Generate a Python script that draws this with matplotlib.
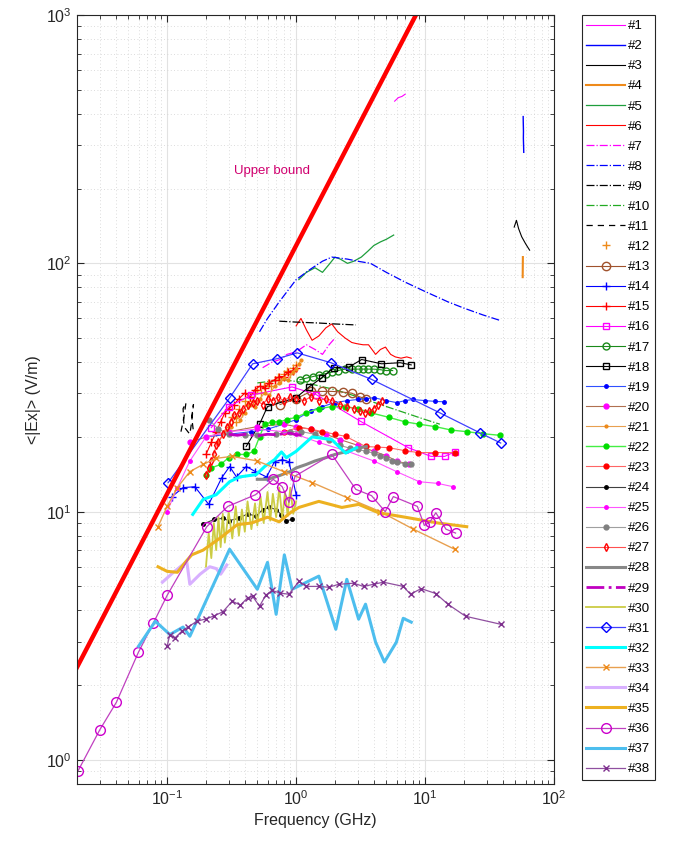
import matplotlib
matplotlib.use('Agg')
import matplotlib.pyplot as plt

plt.rcParams['font.family'] = ['Liberation Sans', 'DejaVu Sans']
plt.rcParams['mathtext.default'] = 'regular'

# ---- data: frequency (GHz) and <|Ex|> (V/m) ----
f1 = [5.8, 6.2, 6.6, 7.0]
e1 = [450, 465, 470, 480]

f2 = [57.5, 57.6, 57.8, 57.7, 57.9, 58.0, 58.1]
e2 = [390, 370, 340, 320, 300, 290, 280]

f3 = [49, 51, 53, 56, 60, 64.5]
e3 = [140, 149, 138, 128, 120, 113]

f4 = [57.0, 57.1, 57.2]
e4 = [88, 97, 106]

f5 = [1.05, 1.2, 1.4, 1.6, 1.8, 2.0, 2.2, 2.5, 2.8, 3.2, 3.6, 4.0, 4.5, 5.0, 5.7]
e5 = [86, 92, 96, 92, 99, 106, 104, 100, 102, 106, 112, 118, 122, 125, 130]

f6 = [1.0, 1.09, 1.2, 1.33, 1.5, 1.7, 1.89, 2.1, 2.4, 2.7, 2.94, 3.3, 3.64, 4.13,
      4.5, 4.92, 5.4, 5.87, 6.5, 7.2, 7.8]
e6 = [56, 60, 54, 49, 51, 55, 57, 53, 50, 48, 47.5, 47, 47, 43, 45, 46, 43, 42,
      41.5, 42, 41.5]

f7 = [0.55, 0.65, 0.75, 0.85, 1.0, 1.2, 1.4, 1.6, 1.8, 2.0]
e7 = [38, 40, 41, 43, 44, 47, 45, 43, 47, 50]

f8 = [0.52, 0.6, 0.74, 1.0, 1.3, 1.6, 1.89, 2.5, 3.0, 3.77, 5, 7, 10, 15, 20, 28, 37.7]
e8 = [53, 60, 70, 86, 95, 102, 106, 104, 102, 100, 92, 84, 77, 70, 66, 62, 59]

f9 = [0.74, 1.0, 1.5, 2.0, 2.9]
e9 = [58.5, 58, 57.5, 57, 56.5]

f10 = [0.5, 0.8, 1.2, 2, 3, 4.5, 7, 10, 13]
e10 = [33, 34, 33, 31, 29, 27, 25, 23.5, 22.5]

f11 = [0.128, 0.135, 0.14, 0.133, 0.135, 0.15, 0.155, 0.16, 0.155, 0.16]
e11 = [21, 24, 27.5, 26, 22, 20.5, 23, 27, 24, 21]

f12 = [0.3, 0.32, 0.34, 0.36, 0.38, 0.4, 0.42, 0.44, 0.46, 0.48, 0.5, 0.53, 0.56,
       0.6, 0.64, 0.68, 0.72, 0.76, 0.8, 0.85, 0.9, 0.95, 1.0]
e12 = [22, 24, 23, 26, 25, 28, 27, 29, 28, 30, 31, 30, 32, 33, 32, 34, 35, 34, 36,
       37, 36, 38, 39]

f13 = [0.75, 1.0, 1.3, 1.6, 1.9, 2.3, 2.7, 3.1, 3.5]
e13 = [27, 28.5, 30.5, 30.5, 30.5, 30.3, 30, 29, 28.5]

f14 = [0.109, 0.133, 0.164, 0.21, 0.265, 0.305, 0.345, 0.41, 0.484, 0.59, 0.68,
       0.78, 0.88, 1.0]
e14 = [11.5, 12.5, 12.6, 10.7, 13.7, 15.2, 13.8, 15.2, 14.5, 13.8, 15.9, 16.2,
       15.9, 11.7]

f15 = [0.2, 0.22, 0.24, 0.26, 0.28, 0.3, 0.33, 0.36, 0.4, 0.44, 0.48, 0.52, 0.57,
       0.62, 0.68, 0.74, 0.8, 0.87, 0.94, 1.0]
e15 = [17, 19, 21, 23, 25, 26, 27, 28.5, 30, 29, 31, 32, 31.5, 33, 34, 35, 35,
       36.5, 37, 38]

f16 = [0.22, 0.3, 0.45, 0.93, 1.43, 3.16, 7.4, 11.1, 14.2, 16.9]
e16 = [21.8, 26.5, 29.5, 31.8, 29.6, 23.1, 18.1, 16.7, 16.7, 17.4]

f17 = [1.07, 1.2, 1.35, 1.5, 1.7, 1.9, 2.1, 2.4, 2.7, 3.0, 3.3, 3.6, 4.0, 4.5,
       5.0, 5.6]
e17 = [34, 34.5, 35, 35.5, 36, 36.5, 37, 37.5, 37.5, 37.5, 37.5, 37.5, 37.5,
       37.3, 37, 37]

f18 = [0.41, 0.52, 0.60, 1.0, 1.26, 1.58, 1.96, 2.56, 3.22, 4.58, 6.4, 7.8]
e18 = [18.3, 22.5, 26.5, 28.8, 31.8, 34.6, 38, 38.2, 41, 39.4, 39.8, 39]

f19 = [0.2, 0.3, 0.45, 0.6, 0.8, 1.0, 1.3, 1.6, 2.0, 2.5, 3.0, 3.5, 4.0, 5.0,
       6.0, 7.0, 8.0, 10, 12, 14]
e19 = [20, 20.5, 21, 21.5, 22.5, 23.5, 25.5, 26.5, 27.5, 28, 28.3, 28.5, 28.8,
       28, 27.5, 28, 28.3, 28, 27.8, 27.7]

f20 = [0.15, 0.2, 0.3, 0.5, 0.8, 1.0, 1.3, 1.7, 2.2, 3, 4, 5, 6, 7.5]
e20 = [19, 20, 21, 22, 22.5, 22, 21.5, 20.5, 19.5, 18.5, 17.5, 16.8, 16, 15.5]

f21 = [0.25, 0.28, 0.31, 0.34, 0.37, 0.4, 0.44, 0.48, 0.52, 0.57, 0.62, 0.68,
       0.74, 0.8, 0.87, 0.94, 1.0, 1.05, 1.1]
e21 = [19, 21, 22, 24, 23.5, 25, 27, 26.5, 28.5, 30, 29.5, 32, 33, 34.5, 34,
       36.5, 37.5, 39.5, 41]

f22 = [0.2, 0.22, 0.26, 0.3, 0.35, 0.41, 0.47, 0.52, 0.57, 0.65, 0.74, 0.85, 1.0,
       1.2, 1.5, 1.9, 2.4, 3.0, 3.8, 5.2, 7, 9, 12, 16, 21, 28, 38]
e22 = [14, 15, 15.5, 16.5, 17, 17, 17.5, 20, 22.5, 23, 23, 23.5, 24, 25, 26,
       26.5, 26.5, 26, 25, 24, 23, 22.5, 22, 21.3, 21, 20.6, 20.3]

f23 = [0.8, 1.05, 1.3, 1.6, 2.0, 2.42, 3.45, 4.2, 5.2, 7.0, 8.8, 12, 16.9]
e23 = [21, 21.8, 21.5, 21, 20.5, 20.1, 18.3, 18.2, 18.1, 17.6, 17.3, 17.3, 17.3]

f24 = [0.19, 0.23, 0.27, 0.3, 0.36, 0.42, 0.49, 0.55, 0.62, 0.7, 0.77, 0.84, 0.93]
e24 = [8.9, 9.3, 9.4, 9.2, 9.4, 9.8, 9.6, 10.2, 10.4, 10.2, 9.7, 9.2, 9.3]

f25 = [0.1, 0.12, 0.15, 0.2, 0.3, 0.5, 0.8, 1.0, 1.5, 2.5, 4.0, 6.0, 9.0, 12.5, 16.5]
e25 = [10, 12.5, 16, 20, 21, 21.5, 21, 20.5, 19, 17.5, 16, 14.5, 13.2, 13, 12.6]

f26 = [0.21, 0.25, 0.3, 0.4, 0.5, 0.7, 0.9, 1.1, 1.4, 1.8, 2.2, 2.6, 3.0, 3.5,
       4.0, 4.5, 5.0, 5.5, 6.0, 7.0, 7.8]
e26 = [23.5, 21.5, 20.5, 20.3, 20.3, 20.5, 21, 21, 20.5, 19.5, 18.5, 18, 17.8,
       17.5, 17.2, 16.8, 16.5, 16, 15.8, 15.6, 15.5]

f27 = [0.2, 0.21, 0.22, 0.23, 0.24, 0.25, 0.27, 0.29, 0.31, 0.33, 0.36, 0.39,
       0.42, 0.46, 0.5, 0.55, 0.6, 0.66, 0.72, 0.8, 0.9, 1.0, 1.15, 1.3, 1.5, 1.7,
       1.9, 2.2, 2.5, 2.8, 3.1, 3.4, 3.7, 4.0, 4.3, 4.6]
e27 = [14, 15, 16, 17, 18.5, 19, 20.5, 22, 23, 24.5, 25, 26, 27, 27.5, 28, 27,
       28.5, 28, 29, 28, 29, 28.5, 28, 29, 28, 28.5, 28, 27, 26.5, 26, 25.5, 25,
       25.5, 26, 27, 28]

f28 = [0.5, 0.6, 0.75, 0.9, 1.0, 1.2, 1.4, 1.7, 2.0, 2.5, 3.0, 3.5]
e28 = [13.5, 13.5, 14, 14.5, 15, 15.5, 16, 16.5, 17, 17.5, 18, 18.3]

f29 = [0.3, 0.35, 0.4, 0.45, 0.5, 0.6, 0.7, 0.8, 0.9, 1.0, 1.1]
e29 = [20.5, 20.3, 20.5, 20.3, 20.2, 20.5, 20.4, 20.6, 20.7, 20.4, 20.3]

f30 = [0.2, 0.21, 0.22, 0.23, 0.24, 0.25, 0.26, 0.27, 0.28, 0.3, 0.32, 0.34,
       0.36, 0.38, 0.4, 0.42, 0.45, 0.48, 0.5, 0.53, 0.56, 0.6, 0.63, 0.66, 0.7,
       0.74, 0.78, 0.82, 0.86, 0.9, 0.95, 1.0]
e30 = [6.0, 8.2, 6.5, 9.0, 7.0, 9.5, 7.2, 9.8, 7.5, 10.0, 7.8, 10.5, 8.0, 10.2,
       8.3, 11.0, 8.5, 10.8, 8.8, 11.5, 9.0, 12.0, 9.2, 11.8, 9.5, 12.5, 9.4, 12.0,
       9.6, 12.5, 9.8, 11.0]

f31 = [0.102, 0.305, 0.46, 0.71, 1.02, 1.86, 3.84, 13.0, 26.4, 38.5]
e31 = [13.1, 28.7, 39.4, 41.3, 43.6, 39.8, 34.1, 25.0, 20.8, 18.9]

f32 = [0.158, 0.19, 0.24, 0.305, 0.364, 0.49, 0.57, 0.68, 0.77, 0.84, 1.0,
       1.33, 1.89, 2.42, 2.94]
e32 = [9.75, 11.2, 11.7, 13.2, 13.8, 14.1, 15.2, 16.2, 17.4, 16.5, 17.5, 20,
       19.5, 17.2, 18.1]

f33 = [0.085, 0.1, 0.12, 0.15, 0.19, 0.24, 0.32, 0.5, 0.8, 1.33, 2.47, 4.5, 8.1, 16.9]
e33 = [8.7, 10.5, 12.5, 14.5, 15.5, 16.4, 16.7, 16, 14.5, 13.1, 11.4, 10, 8.5, 7.06]

f34 = [0.092, 0.112, 0.142, 0.150, 0.18, 0.214, 0.24, 0.26, 0.29]
e34 = [5.2, 5.7, 6.3, 5.1, 5.6, 6.0, 5.9, 5.6, 6.1]

f35 = [0.085, 0.1, 0.12, 0.14, 0.155, 0.19, 0.26, 0.35, 0.45, 0.6, 0.74, 0.9,
       1.05, 1.5, 2.26, 3.05, 4.35, 7.0, 12.6, 21]
e35 = [6.0, 5.75, 5.7, 6.3, 6.7, 7.0, 7.86, 8.87, 9.0, 9.5, 9.1, 9.9, 10.4,
       11.0, 10.4, 10.7, 9.9, 9.5, 9.0, 8.7]

f36 = [0.0203, 0.030, 0.0405, 0.0598, 0.078, 0.1, 0.203, 0.295, 0.484, 0.665,
       0.78, 0.88, 0.98, 1.89, 2.9, 3.84, 4.9, 5.67, 8.7, 9.85, 10.9, 12.1, 14.5, 17.2]
e36 = [0.9, 1.32, 1.71, 2.71, 3.55, 4.6, 8.7, 10.5, 11.7, 13.5, 12.6, 10.9, 13.9,
       17.0, 12.3, 11.6, 10.0, 11.5, 10.5, 8.8, 9.1, 9.9, 8.5, 8.2]

f37 = [0.06, 0.081, 0.105, 0.133, 0.15, 0.305, 0.50, 0.60, 0.70, 0.81, 0.93, 1.5,
       2.03, 2.47, 3.05, 3.45, 4.13, 4.83, 5.98, 6.76, 7.8]
e37 = [2.87, 3.62, 3.2, 3.43, 3.15, 7.06, 4.87, 6.25, 3.86, 6.7, 4.87, 5.5, 3.36,
       5.34, 3.69, 4.24, 2.98, 2.48, 2.98, 3.72, 3.59]

f38 = [0.10, 0.105, 0.115, 0.13, 0.145, 0.17, 0.2, 0.23, 0.27, 0.32, 0.37, 0.42,
       0.46, 0.52, 0.58, 0.65, 0.75, 0.88, 1.05, 1.2, 1.5, 1.79, 2.14, 2.79, 3.33,
       3.98, 4.75, 6.76, 7.7, 9.3, 12.1, 15, 20.6, 38.5]
e38 = [2.87, 3.2, 3.1, 3.3, 3.43, 3.62, 3.7, 3.8, 3.95, 4.36, 4.2, 4.5, 4.56,
       4.16, 4.6, 4.82, 4.7, 4.65, 5.24, 5.0, 5.0, 4.96, 5.1, 5.15, 5.0, 5.1, 5.2,
       5.0, 4.65, 4.9, 4.68, 4.24, 3.79, 3.52]

# upper bound line: E = k * f
ub_f = [0.02, 10.0]
ub_k = 118

# ---- styles per dataset ----
orange = '#EE8A1A'
lorange = '#E8A050'
styles = [
    dict(color='#FF00FF', lw=0.8),
    dict(color='#0000FF', lw=1.0),
    dict(color='k', lw=0.8),
    dict(color=orange, lw=1.5),
    dict(color='#1E9E3C', lw=0.9),
    dict(color='#FF0000', lw=0.8),
    dict(color='#FF00FF', lw=0.9, ls='-.'),
    dict(color='#0000FF', lw=0.9, ls='-.'),
    dict(color='k', lw=0.9, ls='-.'),
    dict(color='#22AA22', lw=0.9, ls='-.'),
    dict(color='k', lw=0.9, ls=(0, (5, 4))),
    dict(color=orange, ls='none', marker='+', ms=6, mew=1),
    dict(color='#A0522D', lw=0.8, marker='o', ms=6, mfc='none'),
    dict(color='#0000FF', lw=0.8, marker='+', ms=6, mew=1),
    dict(color='#FF0000', lw=0.8, marker='+', ms=6, mew=1),
    dict(color='#FF00FF', lw=0.8, marker='s', ms=5, mfc='none'),
    dict(color='#1A8A1A', lw=0.8, marker='o', ms=5, mfc='none'),
    dict(color='k', lw=0.8, marker='s', ms=5, mfc='none'),
    dict(color='#3050FF', lw=0.8, marker='.', ms=5, mfc='#0000FF', mec='#0000FF'),
    dict(color='#B07050', lw=0.8, marker='.', ms=7, mfc='#FF00FF', mec='#FF00FF'),
    dict(color=lorange, lw=0.8, marker='.', ms=4, mfc=orange, mec=orange),
    dict(color='#44EE44', lw=1.0, marker='.', ms=7, mfc='#00DD00', mec='#00DD00'),
    dict(color='#FF6666', lw=0.8, marker='.', ms=7, mfc='#FF0000', mec='#FF0000'),
    dict(color='#404040', lw=0.8, marker='.', ms=5, mfc='k', mec='k'),
    dict(color='#FF55FF', lw=0.8, marker='.', ms=5, mfc='#FF00FF', mec='#FF00FF'),
    dict(color='#A0A0A0', lw=0.8, marker='.', ms=7, mfc='#808080', mec='#808080'),
    dict(color='#FF5050', lw=0.8, marker='d', ms=4, mfc='none', mec='#FF0000'),
    dict(color='#888888', lw=2.2),
    dict(color='#C000C0', lw=2.0, ls='-.'),
    dict(color='#CCCC44', lw=1.3),
    dict(color='#4040FF', lw=0.9, marker='D', ms=5, mfc='none', mec='#0000FF'),
    dict(color='#00FFFF', lw=2.2),
    dict(color=lorange, lw=1.0, marker='x', ms=4, mec=orange),
    dict(color='#D8B0FF', lw=2.2),
    dict(color='#EDB120', lw=2.2),
    dict(color='#C040C0', lw=0.9, marker='o', ms=7, mfc='none', mec='#CC00CC'),
    dict(color='#4DBEEE', lw=2.2),
    dict(color='#9050A0', lw=0.9, marker='x', ms=5, mec='#7E2F8E'),
]

freqs = [f1, f2, f3, f4, f5, f6, f7, f8, f9, f10, f11, f12, f13, f14, f15, f16,
         f17, f18, f19, f20, f21, f22, f23, f24, f25, f26, f27, f28, f29, f30,
         f31, f32, f33, f34, f35, f36, f37, f38]
fields = [e1, e2, e3, e4, e5, e6, e7, e8, e9, e10, e11, e12, e13, e14, e15, e16,
          e17, e18, e19, e20, e21, e22, e23, e24, e25, e26, e27, e28, e29, e30,
          e31, e32, e33, e34, e35, e36, e37, e38]

fig = plt.figure(figsize=(6.75, 8.5), dpi=100)
ax = fig.add_axes([0.114, 0.0776, 0.707, 0.9047])

handles = []
for i, (f, e, st) in enumerate(zip(freqs, fields, styles)):
    h, = ax.plot(f, e, label='#%d' % (i + 1), **st)
    handles.append(h)

ax.plot(ub_f, [ub_k * v for v in ub_f], color='#FF0000', lw=3.2)
ax.text(0.33, 230, 'Upper bound', color='#D0006F', fontsize=9.5)

ax.set_xscale('log')
ax.set_yscale('log')
ax.set_xlim(0.02, 100)
ax.set_ylim(0.8, 1000)

ax.grid(True, which='major', color='#E2E2E2', lw=0.8, ls='-')
ax.grid(True, which='minor', color='#D0D0D0', lw=0.6, ls=(0, (1, 3)))
ax.set_axisbelow(True)
ax.tick_params(which='both', direction='in', top=True, right=True,
               colors='#262626', labelsize=11.5)
ax.tick_params(which='major', length=5)
ax.tick_params(which='minor', length=3)
for sp in ax.spines.values():
    sp.set_color('#262626')
    sp.set_linewidth(0.8)

ax.set_xlabel('Frequency (GHz)', fontsize=11.5, color='#262626')
ax.set_ylabel('<|Ex|> (V/m)', fontsize=11.5, color='#262626')

leg = fig.legend(handles=handles, loc='upper left', bbox_to_anchor=(0.862, 0.982),
                 fontsize=9.5, numpoints=1, handlelength=2.9, handletextpad=0.25,
                 labelspacing=0.595, borderpad=0.35, borderaxespad=0,
                 fancybox=False, framealpha=1, edgecolor='#262626')
leg.get_frame().set_linewidth(0.8)

fig.savefig('out.png', dpi=100)
